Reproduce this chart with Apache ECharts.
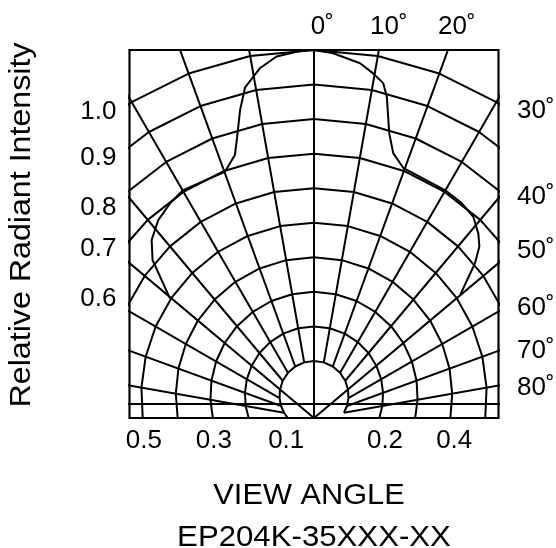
<!DOCTYPE html>
<html><head><meta charset="utf-8">
<script src="https://cdn.jsdelivr.net/npm/echarts@6/dist/echarts.min.js"></script>
<style>html,body{margin:0;padding:0;background:#fff}#c{width:556px;height:548px}</style>
</head><body><div id="c"></div>
<script>
// ---- data ----
// radiation pattern: angle from the optical axis (deg, negative = left) and relative intensity
const curveAngles = [-56, -50, -46.2, -41.6, -36.8, -32.5, -21.7, -18.2, -16.8, -14.5, -12.6, -9.4, -6.3, -1.8, 0,
                     3.2, 7.9, 10.4, 12.5, 13.7, 16, 18.1, 21.5, 32.5, 37.5, 41.7, 45.4, 48, 50.6, 55.5];
const curveIntensity = [0.503, 0.61, 0.651, 0.679, 0.695, 0.705, 0.697, 0.733, 0.773, 0.854, 0.914, 0.96, 0.987, 1.0, 1.0,
                        0.992, 0.971, 0.948, 0.926, 0.89, 0.79, 0.738, 0.707, 0.705, 0.702, 0.693, 0.668, 0.644, 0.603, 0.513];
// grid
const ringLevels = [0.1, 0.2, 0.3, 0.4, 0.5, 0.6, 0.7, 0.8, 0.9, 1.0];
const spokeAngles = [-80, -70, -60, -50, -40, -30, -20, -10, 0, 10, 20, 30, 40, 50, 60, 70, 80];
const fullSpokes = [-50, 0, 50];
// tick labels
const intensityTicks = ['1.0', '0.9', '0.8', '0.7', '0.6'];
const bottomTicks = ['0.5', '0.3', '0.1', '0.2', '0.4'];
const topAngleTicks = ['0', '10', '20'];
const rightAngleTicks = ['30', '40', '50', '60', '70', '80'];

// ---- geometry (in data units, ring centre at 0,0) ----
const H = 0.0651;      // spoke origin below ring centre (bottom edge)
const HLINE = -0.0246; // extra horizontal line
const rad = d => d * Math.PI / 180;
function rayT(rho, th) { const c = Math.cos(rad(th)); return H * c + Math.sqrt(H * H * c * c - H * H + rho * rho); }
function rayPt(t, th) { return [t * Math.sin(rad(th)), -H + t * Math.cos(rad(th))]; }

const lineStyle = { color: '#000', width: 2 };
const series = [];
ringLevels.forEach((rho, i) => {
  const pts = [];
  const end = i === 0 ? 80 : 90;
  for (let th = -90; th <= end; th += 10) pts.push(rayPt(rayT(rho, th), th));
  series.push({ type: 'line', data: pts, showSymbol: false, lineStyle, silent: true });
});
spokeAngles.forEach(th => {
  const t0 = fullSpokes.includes(th) ? 0 : rayT(ringLevels[0], th);
  series.push({ type: 'line', data: [rayPt(t0, th), rayPt(2, th)], showSymbol: false, lineStyle, silent: true });
});
series.push({ type: 'line', data: [[-1, HLINE], [1, HLINE]], showSymbol: false, lineStyle, silent: true });
series.push({
  type: 'line', showSymbol: false, lineStyle: { color: '#000', width: 2 }, silent: true,
  data: curveAngles.map((a, i) => [curveIntensity[i] * Math.sin(rad(a)), curveIntensity[i] * Math.cos(rad(a))])
});

// ---- text ----
const FONT = '"Liberation Sans", Arial, sans-serif';
const DEG = '\u02DA';
const texts = [];
function txt(text, x, y, size, align, extra) {
  texts.push(Object.assign({ type: 'text', x, y, silent: true,
    style: { text, fontSize: size, fontFamily: FONT, fill: '#000', align, verticalAlign: 'middle' } }, extra || {}));
}
const topX = [310.7, 370, 438];
topAngleTicks.forEach((t, i) => txt(t + DEG, topX[i], 27, 26, 'left'));
const rightY = [111, 197, 251, 307.5, 351, 387.5];
rightAngleTicks.forEach((t, i) => txt(t + DEG, 517, rightY[i], 26, 'left'));
const leftY = [111.5, 157.5, 207.5, 249, 299];
intensityTicks.forEach((t, i) => txt(t, 116.5, leftY[i], 26, 'right'));
const bottomX = [143.8, 213.8, 286.2, 385, 454.2];
bottomTicks.forEach((t, i) => txt(t, bottomX[i], 441, 26, 'center'));
txt('VIEW ANGLE', 309, 496, 29, 'center', { scaleX: 1.06 });
txt('EP204K-35XXX-XX', 314, 538, 29, 'center', { scaleX: 1.075 });
txt('Relative Radiant Intensity', 22, 225, 29, 'center', { rotation: Math.PI / 2, scaleX: 1.11 });

const chart = echarts.init(document.getElementById('c'), null, { renderer: 'canvas' });
chart.setOption({
  animation: false,
  backgroundColor: '#fff',
  grid: { left: 129.5, top: 50, width: 369, height: 368, show: true, borderColor: '#000', borderWidth: 2.2, backgroundColor: 'transparent', z: 10 },
  xAxis: { type: 'value', min: -0.534, max: 0.534, show: false },
  yAxis: { type: 'value', min: -H, max: 1.0, show: false },
  series,
  graphic: texts
});
</script></body></html>
